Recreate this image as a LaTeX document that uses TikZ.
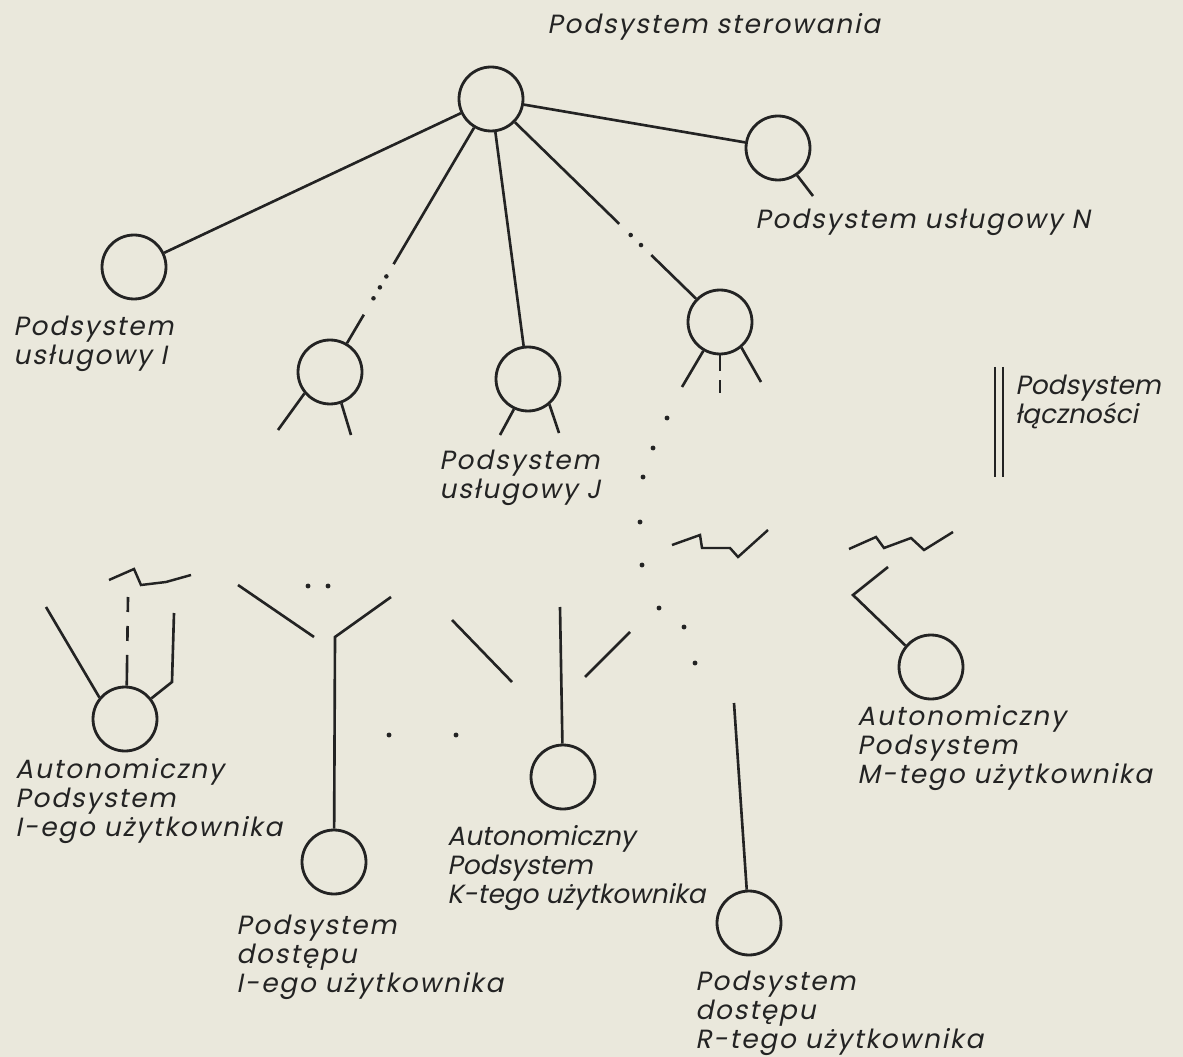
\documentclass[tikz,border=0pt]{standalone}
\usepackage{fontspec}
\newfontfamily\lbl{Poppins}[FakeSlant=0.2,LetterSpace=7]
\newfontfamily\lbltight{Poppins}[FakeSlant=0.2,LetterSpace=0]
\usetikzlibrary{calc}
\definecolor{paper}{RGB}{234,232,220}
\definecolor{ink}{RGB}{35,35,35}
\begin{document}
\begin{tikzpicture}[x=0.02cm,y=-0.02cm,
  sub/.style={circle,draw=ink,line width=1.6pt,minimum size=1.28cm,inner sep=0pt},
  conn/.style={draw=ink,line width=1.5pt},
  link/.style={draw=ink,line width=1.4pt,line join=miter},
  lab/.style={anchor=north west,inner sep=0pt,align=left,text=ink,font=\lbl\fontsize{15}{16.5}\selectfont},
  labtight/.style={lab,font=\lbltight\fontsize{15}{16.5}\selectfont},
  dotmark/.style={fill=ink}]
\fill[paper] (0,0) rectangle (1183,1057);
\useasboundingbox (0,0) rectangle (1183,1057);
% circles
\node[sub] (ctl) at (491,99) {};
\node[sub] (sI) at (134,267) {};
\node[sub] (s3) at (330,372) {};
\node[sub] (sJ) at (528,379) {};
\node[sub] (s5) at (720,322) {};
\node[sub] (sN) at (778,148) {};
\node[sub] (aI) at (125,719) {};
\node[sub] (dI) at (334,862) {};
\node[sub] (aK) at (563,777) {};
\node[sub] (dR) at (749,923) {};
\node[sub] (aM) at (931,667) {};
% labels
\node[lab] (tctl) at (547,13) {Podsystem sterowania};
\node[lab] (tN) at (755,209) {Podsystem usługowy N};
\node[lab] (tI) at (13,316) {Podsystem\\usługowy I};
\node[lab] (tJ) at (439,450) {Podsystem\\usługowy J};
\node[labtight] (tL) at (1015,375) {Podsystem\\łączności};
\node[lab] (taI) at (15,758) {Autonomiczny\\Podsystem\\I-ego użytkownika};
\node[lab] (tdI) at (236,915) {Podsystem\\dostępu\\I-ego użytkownika};
\node[labtight] (taK) at (447,825) {Autonomiczny\\Podsystem\\K-tego użytkownika};
\node[lab] (tdR) at (695,971) {Podsystem\\dostępu\\R-tego użytkownika};
\node[lab] (taM) at (857,705) {Autonomiczny\\Podsystem\\M-tego użytkownika};
% tree connectors
\draw[conn] (ctl) -- (sI);
\draw[conn] (ctl) -- (sJ);
\draw[conn] (ctl) -- (sN);
\coordinate (a1) at ($(ctl)!0.605!(s3)$);
\coordinate (a2) at ($(ctl)!0.79!(s3)$);
\draw[conn] (ctl) -- (a1);
\draw[conn] (a2) -- (s3);
\foreach \t in {0.65,0.69,0.73} \fill[dotmark] ($(ctl)!\t!(s3)$) circle[radius=1.3pt];
\coordinate (b1) at ($(ctl)!0.56!(s5)$);
\coordinate (b2) at ($(ctl)!0.70!(s5)$);
\draw[conn] (ctl) -- (b1);
\draw[conn] (b2) -- (s5);
\foreach \t in {0.61,0.655} \fill[dotmark] ($(ctl)!\t!(s5)$) circle[radius=1.3pt];
% legs
\coordinate (s3l) at (278,430); \coordinate (s3r) at (351,435);
\draw[conn] (s3.-140) -- (s3l);
\draw[conn] (s3.-70) -- (s3r);
\coordinate (sJl) at (500,435); \coordinate (sJr) at (559,433);
\draw[conn] (sJ.-115) -- (sJl);
\draw[conn] (sJ.-50) -- (sJr);
\coordinate (s5l) at (682,387); \coordinate (s5m) at (720,393); \coordinate (s5r) at (761,382);
\draw[conn] (s5.-120) -- (s5l);
\draw[conn,dash pattern=on 0.32cm off 0.18cm] (s5.south) -- (s5m);
\draw[conn] (s5.-50) -- (s5r);
\coordinate (sNt) at (813,196);
\draw[conn] (sN.-55) -- (sNt);
% autonomous I
\coordinate (aId) at (128,597);
\draw[conn,dash pattern=on 0.3cm off 0.28cm on 0.3cm off 0.28cm on 1cm] (aId) -- (aI.87);
\coordinate (aIl) at (46,607);
\draw[conn] (aIl) -- (aI.140);
\coordinate (aIr) at (174,613); \coordinate (aIk) at (172,682);
\draw[conn] (aIr) -- (aIk) -- (aI.38);
% zigzags
\draw[link] (109,580) -- (134,569) -- (141,585) -- (166,582) -- (191,575);
\draw[link] (672,545) -- (700,535) -- (702,548) -- (730,548) -- (738,557) -- (768,530);
\draw[link] (849,549) -- (876,537) -- (884,548) -- (911,538) -- (924,550) -- (953,532);
% access I
\coordinate (yIa) at (238,585); \coordinate (yIb) at (314,637);
\coordinate (yIc) at (391,597); \coordinate (yI) at (335,637);
\draw[conn] (yIa) -- (yIb);
\draw[conn] (yIc) -- (yI) -- (dI);
% K
\coordinate (yKa) at (452,620); \coordinate (yKb) at (512,682);
\coordinate (yKc) at (585,677); \coordinate (yKd) at (630,632);
\coordinate (yK) at (560,607);
\draw[conn] (yKa) -- (yKb);
\draw[conn] (yKc) -- (yKd);
\draw[conn] (yK) -- (aK);
% R
\coordinate (yR) at (734,703);
\draw[conn] (yR) -- (dR);
% M
\coordinate (aMa) at (853,595); \coordinate (aMb) at (888,567);
\draw[conn] (aM.140) -- (aMa) -- (aMb);
% communication subsystem bars
\draw[conn] (995,367) -- (995,477);
\draw[conn] (1003,367) -- (1003,477);
% dots
\foreach \p in {(667,418),(653,448),(643,477),(640,522),(642,565),(659,608),(695,663),(684,627),(308,586),(328,586),(389,735),(456,735)}
  \fill[dotmark] \p circle[radius=1.4pt];
\end{tikzpicture}
\end{document}
